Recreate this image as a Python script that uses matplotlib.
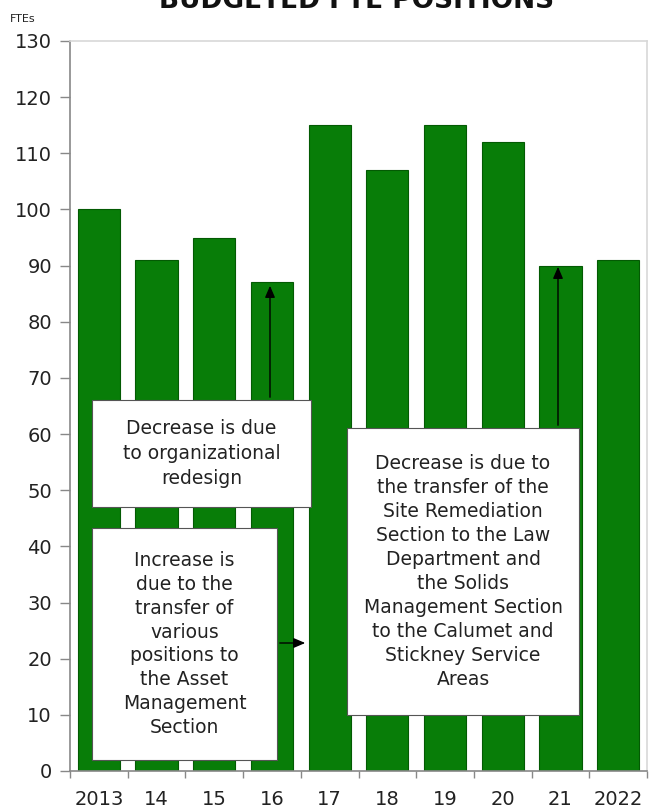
import matplotlib
matplotlib.use("Agg")
import matplotlib.pyplot as plt

categories = ["2013", "14", "15", "16", "17", "18", "19", "20", "21", "2022"]
ftes = [100, 91, 95, 87, 115, 107, 115, 112, 90, 91]
yticks = list(range(0, 131, 10))

note1 = "Decrease is due\nto organizational\nredesign"
note2 = "Increase is\ndue to the\ntransfer of\nvarious\npositions to\nthe Asset\nManagement\nSection"
note3 = ("Decrease is due to\nthe transfer of the\nSite Remediation\nSection to the Law\n"
         "Department and\nthe Solids\nManagement Section\nto the Calumet and\nStickney Service\nAreas")

W, H = 652, 809
fig = plt.figure(figsize=(W / 100, H / 100), dpi=100)
L, R, T, B = 70, 647, 41, 771
ax = fig.add_axes([L / W, 1 - B / H, (R - L) / W, (B - T) / H])

x = list(range(len(categories)))
ax.bar(x, ftes, width=0.73, color="#087d08", edgecolor="#035a03", linewidth=0.8, zorder=2)

ax.set_xlim(-0.5, len(categories) - 0.5)
ax.set_ylim(0, 130)
ax.set_yticks(yticks)
ax.set_xticks(x)
ax.set_xticklabels(categories)
ax.set_xticks([i - 0.5 for i in range(len(categories) + 1)], minor=True)
ax.tick_params(axis="x", which="major", length=0, pad=14, labelsize=14, colors="#222222")
ax.tick_params(axis="x", which="minor", length=5, color="#888888", width=1)
ax.tick_params(axis="y", length=7, color="#888888", width=1, labelsize=14, colors="#222222", pad=6)
for s in ["left", "bottom"]:
    ax.spines[s].set_color("#888888")
    ax.spines[s].set_linewidth(1.2)
for s in ["top", "right"]:
    ax.spines[s].set_color("#d8d8d8")
    ax.spines[s].set_linewidth(1.2)

fig.text(10 / W, 1 - 22 / H, "FTEs", fontsize=8, color="#222222")
fig.text(357 / W, 1 - 8 / H, "BUDGETED FTE POSITIONS", fontsize=19, fontweight="bold",
         ha="center", va="baseline", color="#111111")


def px2data(px, py):
    dx = -0.5 + (px - L) / (R - L) * len(categories)
    dy = (B - py) / (B - T) * 130
    return dx, dy


def note(x0, y0, x1, y1, text, fs=13.5, ls=1.4):
    ax0, ay1 = px2data(x0, y0)
    ax1, ay0 = px2data(x1, y1)
    rect = plt.Rectangle((ax0, ay0), ax1 - ax0, ay1 - ay0, facecolor="white",
                         edgecolor="#555555", linewidth=0.8, zorder=4)
    ax.add_patch(rect)
    ax.text((ax0 + ax1) / 2, (ay0 + ay1) / 2, text, ha="center", va="center",
            fontsize=fs, linespacing=ls, color="#222222", zorder=5)


def arrow(x0, y0, x1, y1):
    a, b = px2data(x0, y0)
    c, d = px2data(x1, y1)
    ax.annotate("", xy=(c, d), xytext=(a, b),
                arrowprops=dict(arrowstyle="-|>,head_length=0.7,head_width=0.3",
                                color="black", lw=1.0), zorder=6)


note(92, 400, 311, 507, note1, fs=13.5, ls=1.42)
note(92, 528, 277, 760, note2, fs=13.5, ls=1.33)
note(347, 428, 579, 715, note3, fs=13.5, ls=1.34)

arrow(270, 400, 270, 283)
arrow(277, 643, 308, 643)
arrow(558, 428, 558, 264)

fig.savefig("out.png", dpi=100)
